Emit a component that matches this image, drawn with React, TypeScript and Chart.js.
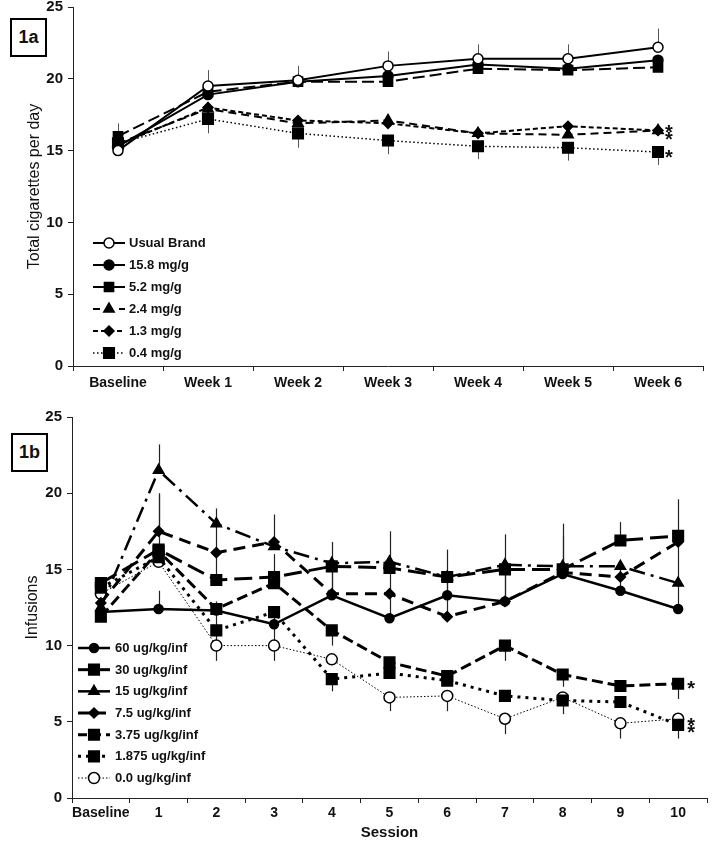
import React, { useEffect, useRef } from "react";
import { Chart, registerables } from "chart.js";

Chart.register(...registerables);

const FONT = "'Liberation Sans', Arial, Helvetica, sans-serif";
Chart.defaults.font.family = FONT;

// ---------------- Panel 1a data ----------------
const weekLabels = ["Baseline", "Week 1", "Week 2", "Week 3", "Week 4", "Week 5", "Week 6"];
const usualBrand = [15.0, 19.5, 19.9, 20.9, 21.4, 21.4, 22.2];
const nic158 = [15.3, 18.9, 19.8, 20.2, 21.0, 20.7, 21.3];
const nic52 = [16.0, 19.1, 19.8, 19.8, 20.7, 20.6, 20.8];
const nic24 = [15.5, 17.9, 16.9, 17.1, 16.2, 16.1, 16.4];
const nic13 = [15.4, 18.0, 17.1, 16.9, 16.2, 16.7, 16.4];
const nic04 = [15.5, 17.2, 16.2, 15.7, 15.3, 15.2, 14.9];
const usualBrandErrUp = [0, 1.1, 1.0, 1.0, 1.0, 1.0, 1.3];
const nic52ErrUp = [0.9, 0, 0, 0, 0, 0, 0];
const nic04ErrDown = [0, 1.0, 1.0, 0.95, 0.9, 0.9, 0.9];
const starsA = [
  { cat: 6, value: 16.6 },
  { cat: 6, value: 16.1 },
  { cat: 6, value: 14.8 },
];

// ---------------- Panel 1b data ----------------
const sessionLabels = ["Baseline", "1", "2", "3", "4", "5", "6", "7", "8", "9", "10"];
const dose60 = [12.2, 12.4, 12.3, 11.4, 13.3, 11.8, 13.3, 12.9, 14.7, 13.6, 12.4];
const dose30 = [14.1, 16.3, 14.3, 14.5, 15.2, 15.1, 14.5, 15.0, 15.0, 16.9, 17.2];
const dose15 = [12.5, 21.5, 18.0, 16.5, 15.4, 15.5, 14.5, 15.3, 15.2, 15.2, 14.1];
const dose7_5 = [12.8, 17.5, 16.1, 16.8, 13.4, 13.4, 11.9, 12.9, 14.8, 14.5, 16.8];
const dose3_75 = [11.9, 16.2, 12.4, 14.1, 11.0, 8.9, 8.0, 10.0, 8.1, 7.35, 7.5];
const dose1_875 = [13.8, 15.8, 11.0, 12.2, 7.8, 8.2, 7.7, 6.7, 6.4, 6.3, 4.8];
const dose0 = [13.4, 15.5, 10.0, 10.0, 9.1, 6.6, 6.7, 5.2, 6.6, 4.9, 5.2];
const dose60ErrUp = [0, 1.2, 0.6, 0.9, 1.9, 2.0, 1.2, 2.0, 2.5, 1.5, 1.7];
const dose30ErrUp = [0, 3.7, 1.9, 1.5, 1.6, 2.4, 1.8, 2.3, 3.0, 1.2, 2.4];
const dose15ErrUp = [0, 1.7, 1.0, 0, 0, 0, 0, 0, 0, 0, 2.4];
const dose7_5ErrUp = [0, 2.4, 1.8, 1.8, 1.8, 2.0, 2.6, 2.2, 0, 1.0, 0];
const dose3_75ErrDown = [0, 0, 0, 0, 1.0, 0, 0, 1.0, 0.8, 0, 1.0];
const dose1_875ErrUp = [0, 0, 1.3, 0, 0, 0, 0, 0, 0, 0, 0];
const dose1_875ErrDown = [0, 0, 0, 0, 0.8, 0, 0, 0, 0.9, 0, 0.9];
const dose0ErrUp = [0, 0, 1.0, 1.4, 0, 0, 0, 0, 0, 0, 0];
const dose0ErrDown = [0, 0, 1.0, 1.0, 0, 0.9, 1.0, 1.0, 0, 1.0, 0];
const starsB = [
  { cat: 10, value: 7.5 },
  { cat: 10, value: 5.05 },
  { cat: 10, value: 4.6 },
];

type Series = {
  label: string;
  data: number[];
  style: string;
  filled: boolean;
  r: number;
  dash: number[];
  lw: number;
  legendDash?: number[];
  legendLw?: number;
  errUp?: number[];
  errDown?: number[];
};

const seriesA: Series[] = [
  { label: "Usual Brand", data: usualBrand, style: "circle", filled: false, r: 5, dash: [], lw: 2, errUp: usualBrandErrUp },
  { label: "15.8 mg/g", data: nic158, style: "circle", filled: true, r: 5, dash: [], lw: 2 },
  { label: "5.2 mg/g", data: nic52, style: "rect", filled: true, r: 6.5, dash: [12, 5], lw: 2, legendDash: [], errUp: nic52ErrUp },
  { label: "2.4 mg/g", data: nic24, style: "triangle", filled: true, r: 6, dash: [8, 5], lw: 2, legendDash: [7, 6] },
  { label: "1.3 mg/g", data: nic13, style: "rectRot", filled: true, r: 5, dash: [5, 3], lw: 2, legendDash: [5, 3] },
  { label: "0.4 mg/g", data: nic04, style: "rect", filled: true, r: 7.5, dash: [1.5, 2.5], lw: 1.5, errDown: nic04ErrDown },
];

const seriesB: Series[] = [
  { label: "60 ug/kg/inf", data: dose60, style: "circle", filled: true, r: 4.5, dash: [], lw: 2.5, errUp: dose60ErrUp },
  { label: "30 ug/kg/inf", data: dose30, style: "rect", filled: true, r: 7.5, dash: [18, 7], lw: 3, legendDash: [], errUp: dose30ErrUp },
  { label: "15 ug/kg/inf", data: dose15, style: "triangle", filled: true, r: 6, dash: [16, 6, 3, 6], lw: 2.5, legendDash: [], errUp: dose15ErrUp },
  { label: "7.5 ug/kg/inf", data: dose7_5, style: "rectRot", filled: true, r: 5, dash: [12, 7], lw: 3, legendDash: [12, 4], errUp: dose7_5ErrUp },
  { label: "3.75 ug/kg/inf", data: dose3_75, style: "rect", filled: true, r: 7.5, dash: [11, 5], lw: 3, legendDash: [9, 5], errDown: dose3_75ErrDown },
  { label: "1.875 ug/kg/inf", data: dose1_875, style: "rect", filled: true, r: 7.5, dash: [3, 5], lw: 3, errUp: dose1_875ErrUp, errDown: dose1_875ErrDown },
  { label: "0.0 ug/kg/inf", data: dose0, style: "circle", filled: false, r: 5.5, dash: [1.5, 2], lw: 1, errUp: dose0ErrUp, errDown: dose0ErrDown },
];

function drawMarker(ctx: CanvasRenderingContext2D, style: string, x: number, y: number, r: number, filled: boolean) {
  ctx.beginPath();
  if (style === "circle") {
    ctx.arc(x, y, r, 0, Math.PI * 2);
  } else if (style === "rect") {
    const s = r * Math.SQRT1_2;
    ctx.rect(x - s, y - s, 2 * s, 2 * s);
  } else if (style === "rectRot") {
    ctx.moveTo(x, y - r);
    ctx.lineTo(x + r, y);
    ctx.lineTo(x, y + r);
    ctx.lineTo(x - r, y);
    ctx.closePath();
  } else if (style === "triangle") {
    let a = 0;
    ctx.moveTo(x + Math.sin(a) * r, y - Math.cos(a) * r);
    a += (2 * Math.PI) / 3;
    ctx.lineTo(x + Math.sin(a) * r, y - Math.cos(a) * r);
    a += (2 * Math.PI) / 3;
    ctx.lineTo(x + Math.sin(a) * r, y - Math.cos(a) * r);
    ctx.closePath();
  }
  ctx.fillStyle = filled ? "#000" : "#fff";
  ctx.fill();
  ctx.lineWidth = 1.5;
  ctx.strokeStyle = "#000";
  ctx.setLineDash([]);
  ctx.stroke();
}

function makeDatasets(series: Series[]) {
  return series.map((s) => ({
    label: s.label,
    data: s.data,
    borderColor: "#000",
    backgroundColor: s.filled ? "#000" : "#fff",
    borderWidth: s.lw,
    borderDash: s.dash,
    pointStyle: s.style,
    pointRadius: s.r,
    pointBackgroundColor: s.filled ? "#000" : "#fff",
    pointBorderColor: "#000",
    pointBorderWidth: 1.5,
    fill: false,
    tension: 0,
  }));
}

function errorBarPlugin(series: Series[], color: string, width: number) {
  return {
    id: "errorBars",
    beforeDatasetsDraw(chart: any) {
      const ctx = chart.ctx as CanvasRenderingContext2D;
      const xs = chart.scales.x;
      const ys = chart.scales.y;
      ctx.save();
      ctx.strokeStyle = color;
      ctx.lineWidth = width;
      ctx.setLineDash([]);
      series.forEach((s) => {
        s.data.forEach((v, i) => {
          const px = Math.round(xs.getPixelForValue(i)) + 0.5;
          const up = s.errUp ? s.errUp[i] : 0;
          const dn = s.errDown ? s.errDown[i] : 0;
          if (up) {
            ctx.beginPath();
            ctx.moveTo(px, ys.getPixelForValue(v));
            ctx.lineTo(px, ys.getPixelForValue(v + up));
            ctx.stroke();
          }
          if (dn) {
            ctx.beginPath();
            ctx.moveTo(px, ys.getPixelForValue(v));
            ctx.lineTo(px, ys.getPixelForValue(v - dn));
            ctx.stroke();
          }
        });
      });
      ctx.restore();
    },
  };
}

function legendPlugin(series: Series[], o: { x0: number; x1: number; tx: number; y0: number; dy: number }) {
  return {
    id: "customLegend",
    afterDraw(chart: any) {
      const ctx = chart.ctx as CanvasRenderingContext2D;
      const { left, top } = chart.chartArea;
      series.forEach((s, i) => {
        const y = top + o.y0 + i * o.dy;
        const x0 = left + o.x0;
        const x1 = left + o.x1;
        ctx.save();
        ctx.strokeStyle = "#000";
        ctx.lineWidth = s.legendLw ?? s.lw;
        ctx.setLineDash(s.legendDash ?? s.dash);
        ctx.beginPath();
        ctx.moveTo(x0, y);
        ctx.lineTo(x1, y);
        ctx.stroke();
        drawMarker(ctx, s.style, (x0 + x1) / 2, y, s.r, s.filled);
        ctx.fillStyle = "#111";
        ctx.font = `bold 13px ${FONT}`;
        ctx.textAlign = "left";
        ctx.textBaseline = "middle";
        ctx.fillText(s.label, left + o.tx, y + 0.5);
        ctx.restore();
      });
    },
  };
}

function starsPlugin(stars: { cat: number; value: number }[], dx: number) {
  return {
    id: "stars",
    afterDraw(chart: any) {
      const ctx = chart.ctx as CanvasRenderingContext2D;
      const xs = chart.scales.x;
      const ys = chart.scales.y;
      ctx.save();
      ctx.fillStyle = "#111";
      ctx.font = `bold 20px ${FONT}`;
      ctx.textAlign = "center";
      ctx.textBaseline = "alphabetic";
      stars.forEach((s) => {
        ctx.fillText("*", xs.getPixelForValue(s.cat) + dx, ys.getPixelForValue(s.value) + 11);
      });
      ctx.restore();
    },
  };
}

function axisOptions(o: {
  yTitle: string;
  yTitlePad: number;
  yWidth: number;
  xHeight: number;
  xTitle?: string;
  xPad: number;
}) {
  const x: any = {
    type: "category",
    offset: true,
    grid: {
      display: true,
      drawOnChartArea: false,
      drawTicks: true,
      tickLength: 5,
      offset: true,
      color: "#222",
      lineWidth: 1,
    },
    border: { display: true, color: "#222", width: 1 },
    ticks: {
      color: "#111",
      font: { family: FONT, size: 14, weight: "bold" },
      padding: o.xPad,
      maxRotation: 0,
      autoSkip: false,
    },
    afterFit: (s: any) => {
      s.height = o.xHeight;
    },
  };
  if (o.xTitle) {
    x.title = {
      display: true,
      text: o.xTitle,
      color: "#111",
      font: { family: FONT, size: 15, weight: "bold" },
      padding: { top: 0, bottom: 0 },
    };
  }
  const y: any = {
    type: "linear",
    min: 0,
    max: 25,
    grid: {
      display: true,
      drawOnChartArea: false,
      drawTicks: true,
      tickLength: 5,
      color: "#222",
      lineWidth: 1,
    },
    border: { display: true, color: "#222", width: 1 },
    ticks: {
      stepSize: 5,
      color: "#111",
      font: { family: FONT, size: 15, weight: "bold", lineHeight: 1 },
      padding: 5,
    },
    title: {
      display: true,
      text: o.yTitle,
      color: "#111",
      font: { family: FONT, size: 16, weight: "normal" },
      padding: { top: o.yTitlePad, bottom: 0 },
    },
    afterFit: (s: any) => {
      s.width = o.yWidth;
    },
  };
  return { x, y };
}

function ChartA() {
  const ref = useRef<HTMLCanvasElement | null>(null);
  useEffect(() => {
    if (!ref.current) return;
    const chart = new Chart(ref.current, {
      type: "line",
      data: { labels: weekLabels, datasets: makeDatasets(seriesA) as any },
      options: {
        animation: false,
        responsive: false,
        maintainAspectRatio: false,
        layout: { padding: { left: 0, right: 13, top: 17, bottom: 0 } },
        plugins: { legend: { display: false }, tooltip: { enabled: false } },
        scales: axisOptions({ yTitle: "Total cigarettes per day", yTitlePad: 25, yWidth: 73, xHeight: 34, xPad: 4 }),
      } as any,
      plugins: [
        errorBarPlugin(seriesA, "#555", 1),
        legendPlugin(seriesA, { x0: 20, x1: 52, tx: 56, y0: 236, dy: 22 }),
        starsPlugin(starsA, 11),
      ],
    });
    return () => chart.destroy();
  }, []);
  return (
    <canvas
      ref={ref}
      width={716}
      height={410}
      style={{ position: "absolute", left: 0, top: -10, width: 716, height: 410 }}
    />
  );
}

function ChartB() {
  const ref = useRef<HTMLCanvasElement | null>(null);
  useEffect(() => {
    if (!ref.current) return;
    const chart = new Chart(ref.current, {
      type: "line",
      data: { labels: sessionLabels, datasets: makeDatasets(seriesB) as any },
      options: {
        animation: false,
        responsive: false,
        maintainAspectRatio: false,
        layout: { padding: { left: 0, right: 2, top: 17, bottom: 0 } },
        plugins: { legend: { display: false }, tooltip: { enabled: false } },
        scales: axisOptions({ yTitle: "Infusions", yTitlePad: 23, yWidth: 72, xHeight: 44, xTitle: "Session", xPad: 2 }),
      } as any,
      plugins: [
        errorBarPlugin(seriesB, "#222", 1.2),
        legendPlugin(seriesB, { x0: 6, x1: 38, tx: 43, y0: 231, dy: 21.67 }),
        starsPlugin(starsB, 13),
      ],
    });
    return () => chart.destroy();
  }, []);
  return (
    <canvas
      ref={ref}
      width={716}
      height={442}
      style={{ position: "absolute", left: 0, top: 400, width: 716, height: 442 }}
    />
  );
}

const boxStyle: React.CSSProperties = {
  position: "absolute",
  boxSizing: "border-box",
  border: "2px solid #000",
  background: "#fff",
  fontFamily: FONT,
  fontWeight: "bold",
  fontSize: 18,
  display: "flex",
  alignItems: "center",
  justifyContent: "center",
  color: "#111",
};

export default function App() {
  return (
    <div style={{ position: "absolute", left: 0, top: 0, width: 716, height: 842, background: "#fff", overflow: "hidden" }}>
      <ChartA />
      <ChartB />
      <div style={{ ...boxStyle, left: 10, top: 18, width: 37, height: 39 }}>1a</div>
      <div style={{ ...boxStyle, left: 11, top: 433, width: 37, height: 39 }}>1b</div>
    </div>
  );
}
